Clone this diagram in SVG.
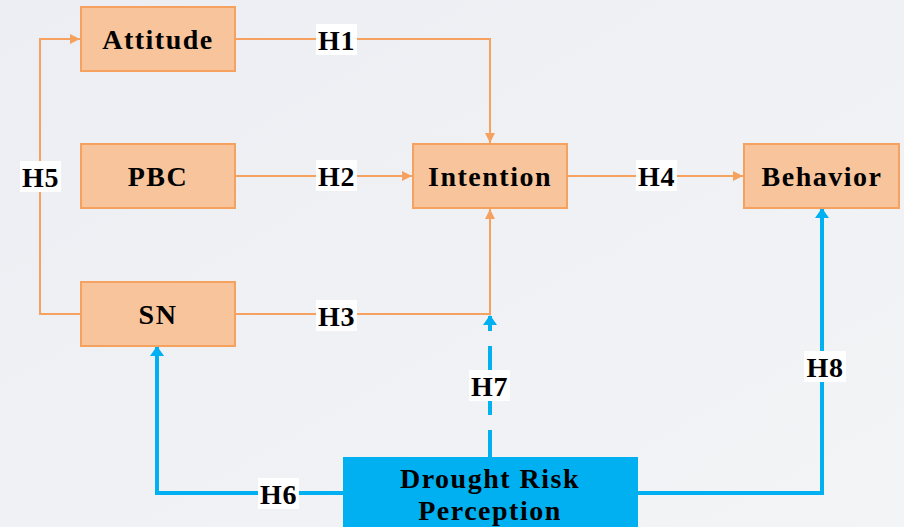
<svg xmlns="http://www.w3.org/2000/svg" width="904" height="527" viewBox="0 0 904 527">
<defs>
<linearGradient id="bg" x1="0" y1="0" x2="1" y2="1">
<stop offset="0" stop-color="#eceef3"/>
<stop offset="1" stop-color="#f3f4f6"/>
</linearGradient>
<marker id="ao" markerUnits="userSpaceOnUse" markerWidth="10" markerHeight="10" refX="10" refY="5" orient="auto">
<path d="M0,0 L10,5 L0,10 z" fill="#f5a261"/>
</marker>
<marker id="ab" markerUnits="userSpaceOnUse" markerWidth="10" markerHeight="14" refX="9" refY="7" orient="auto">
<path d="M0,0 L10,7 L0,14 z" fill="#00b0f0"/>
</marker>
</defs>
<style>
.node rect{fill:#f8c49b;stroke:#f5a261;stroke-width:2}
text{font-family:'Liberation Serif','Times New Roman',serif;font-weight:bold;fill:#000;text-anchor:middle;dominant-baseline:central}
.nt{font-size:28px;letter-spacing:1.5px}
.lb{font-size:28px;letter-spacing:0.5px}
.lbg{fill:#ffffff}
.or{fill:none;stroke:#f5a261;stroke-width:2}
.bl{fill:none;stroke:#00b0f0;stroke-width:4}
</style>
<rect width="904" height="527" fill="url(#bg)"/>
<g id="connectors">
<path class="or" d="M81,314 H40 V39 H80" marker-end="url(#ao)"/>
<path class="or" d="M235,39 H490 V143" marker-end="url(#ao)"/>
<path class="or" d="M235,176 H412" marker-end="url(#ao)"/>
<path class="or" d="M235,314 H490 V209" marker-end="url(#ao)"/>
<path class="or" d="M567,176 H743" marker-end="url(#ao)"/>
<path class="bl" d="M343,493 H157 V347" marker-end="url(#ab)"/>
<path class="bl" d="M490,457 V316" stroke-dasharray="27 15" marker-end="url(#ab)"/>
<path class="bl" d="M637,493 H822 V209" marker-end="url(#ab)"/>
<g id="labels">
<rect class="lbg" x="20" y="161" width="41" height="31"/>
<text class="lb" x="40.5" y="177" font-family="Liberation Serif, serif">H5</text>
<rect class="lbg" x="316" y="24" width="41" height="31"/>
<text class="lb" x="336.5" y="40" font-family="Liberation Serif, serif">H1</text>
<rect class="lbg" x="316" y="160" width="41" height="31"/>
<text class="lb" x="336.5" y="176" font-family="Liberation Serif, serif">H2</text>
<rect class="lbg" x="316" y="300" width="41" height="31"/>
<text class="lb" x="336.5" y="316" font-family="Liberation Serif, serif">H3</text>
<rect class="lbg" x="636" y="160" width="41" height="31"/>
<text class="lb" x="656.5" y="176" font-family="Liberation Serif, serif">H4</text>
<rect class="lbg" x="258" y="478" width="41" height="31"/>
<text class="lb" x="278.5" y="494" font-family="Liberation Serif, serif">H6</text>
<rect class="lbg" x="469" y="370" width="41" height="31"/>
<text class="lb" x="489.5" y="386" font-family="Liberation Serif, serif">H7</text>
<rect class="lbg" x="804" y="351" width="42" height="31"/>
<text class="lb" x="825" y="367" font-family="Liberation Serif, serif">H8</text>
</g>
</g>
<g id="attitude" class="node">
<rect x="81" y="7" width="154" height="64"/>
<text class="nt" x="158" y="39">Attitude</text>
</g>
<g id="pbc" class="node">
<rect x="81" y="144" width="154" height="64"/>
<text class="nt" x="158" y="176">PBC</text>
</g>
<g id="sn" class="node">
<rect x="81" y="282" width="154" height="64"/>
<text class="nt" x="158" y="314">SN</text>
</g>
<g id="intention" class="node">
<rect x="413" y="144" width="154" height="64"/>
<text class="nt" x="490" y="176">Intention</text>
</g>
<g id="behavior" class="node">
<rect x="744" y="144" width="155" height="64"/>
<text class="nt" x="822" y="176">Behavior</text>
</g>
<g id="drought">
<rect x="343" y="457" width="295" height="75" fill="#00b0f0"/>
<text class="nt" x="490" y="478">Drought Risk</text>
<text class="nt" x="490" y="510">Perception</text>
</g>
</svg>
